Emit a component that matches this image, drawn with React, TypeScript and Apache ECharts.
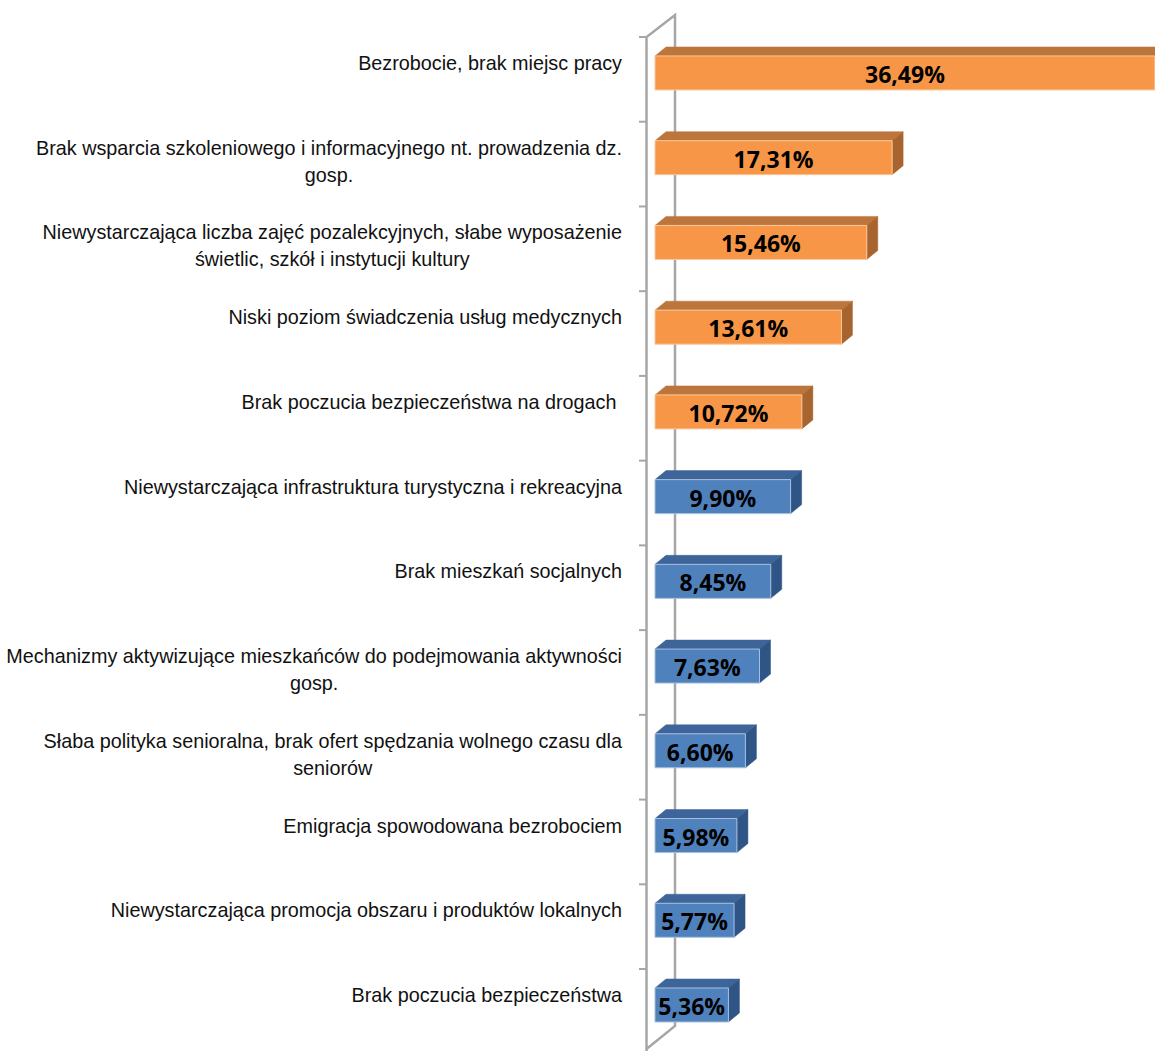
import React, { useEffect, useRef } from "react";
import * as echarts from "echarts";

const categories: string[] = [
  "Bezrobocie, brak miejsc pracy",
  "Brak wsparcia szkoleniowego i informacyjnego nt. prowadzenia dz.\ngosp.",
  "Niewystarczająca liczba zajęć pozalekcyjnych, słabe wyposażenie\nświetlic, szkół i instytucji kultury",
  "Niski poziom świadczenia usług medycznych",
  "Brak poczucia bezpieczeństwa na drogach ",
  "Niewystarczająca infrastruktura turystyczna i rekreacyjna",
  "Brak mieszkań socjalnych",
  "Mechanizmy aktywizujące mieszkańców do podejmowania aktywności\ngosp.",
  "Słaba polityka senioralna, brak ofert spędzania wolnego czasu dla\nseniorów",
  "Emigracja spowodowana bezrobociem",
  "Niewystarczająca promocja obszaru i produktów lokalnych",
  "Brak poczucia bezpieczeństwa",
];

const values: number[] = [36.49, 17.31, 15.46, 13.61, 10.72, 9.9, 8.45, 7.63, 6.6, 5.98, 5.77, 5.36];

const TOP_COUNT = 5;

const W = 1155;
const H = 1051;

const ORANGE = { front: "#F79646", top: "#BC753B", side: "#A8642E", edge: "#FBC89C" };
const BLUE = { front: "#4F81BD", top: "#3D659A", side: "#2F5587", edge: "#A7C0DE" };

function fmt(v: number) {
  return v.toFixed(2).replace(".", ",") + "%";
}

export default function App() {
  const ref = useRef<HTMLDivElement>(null);
  useEffect(() => {
    document.body.style.margin = "0";
    const chart = echarts.init(ref.current!, null, { renderer: "svg" });

    const gridTop = 30.6;
    const band = 84.73;
    const gridHeight = band * categories.length;
    const gridLeft = 655;

    const wallGray = "#A6A6A6";
    const wallFrontX = 646.5;
    const wallBackX = 675;
    const wallTop = 37;
    const graphics: any[] = [
      {
        type: "polyline",
        shape: {
          points: [
            [wallFrontX, H + 5],
            [wallFrontX, wallTop],
            [wallBackX, 15],
            [wallBackX, 1026],
            [wallFrontX, 1049],
          ],
        },
        style: { stroke: wallGray, lineWidth: 2.5, fill: null },
        z: 0,
      },
    ];
    for (let k = 0; k <= categories.length; k++) {
      const y = wallTop + band * k;
      graphics.push({
        type: "line",
        shape: { x1: 639, y1: y, x2: wallFrontX, y2: y },
        style: { stroke: wallGray, lineWidth: 2 },
        z: 0,
      });
    }

    const labelFont = "'Liberation Sans', Arial, sans-serif";

    chart.setOption({
      animation: false,
      grid: {
        left: gridLeft,
        right: 0,
        top: gridTop,
        height: gridHeight,
        containLabel: false,
        outerBoundsMode: "none",
      },
      xAxis: {
        type: "value",
        min: 0,
        max: 36.5,
        show: false,
      },
      yAxis: {
        type: "category",
        inverse: true,
        data: categories,
        axisLine: { show: false },
        axisTick: { show: false },
        splitLine: { show: false },
        axisLabel: {
          margin: 33,
          align: "right",
          verticalAlign: "middle",
          formatter: (val: string) => {
            const lines = val.split("\n");
            if (lines.length === 1) lines.push(" ");
            return lines.map((l) => `{a|${l}}`).join("\n");
          },
          rich: {
            a: {
              align: "center",
              verticalAlign: "bottom",
              fontFamily: labelFont,
              fontSize: 19.8,
              lineHeight: 27,
              color: "#111",
            },
          },
        },
      },
      graphic: graphics,
      series: [
        {
          type: "custom",
          z: 5,
          encode: { x: 0, y: 1 },
          data: values.map((v, i) => [v, i]),
          renderItem: (params: any, api: any) => {
            const v = api.value(0);
            const i = api.value(1);
            const p0 = api.coord([0, i]);
            const p1 = api.coord([v, i]);
            const h = 34;
            const dx = 11;
            const dy = 9;
            const x0 = p0[0];
            const x1 = p1[0];
            const top = p0[1] - h / 2;
            const bot = p0[1] + h / 2;
            const c = i < TOP_COUNT ? ORANGE : BLUE;
            return {
              type: "group",
              children: [
                {
                  type: "polygon",
                  shape: { points: [[x0, top], [x0 + dx, top - dy], [x1 + dx, top - dy], [x1, top]] },
                  style: { fill: c.top, stroke: c.top, lineWidth: 0.5 },
                },
                {
                  type: "polygon",
                  shape: { points: [[x1, top], [x1 + dx, top - dy], [x1 + dx, bot - dy], [x1, bot]] },
                  style: { fill: c.side, stroke: c.side, lineWidth: 0.5 },
                },
                {
                  type: "rect",
                  shape: { x: x0, y: top, width: x1 - x0, height: h },
                  style: { fill: c.front, stroke: c.edge, lineWidth: 1 },
                },
                {
                  type: "text",
                  x: (x0 + x1) / 2,
                  y: p0[1] + 1,
                  style: {
                    text: fmt(v),
                    align: "center",
                    verticalAlign: "middle",
                    fill: "#000",
                    font: "bold 23px 'Open Sans', Lato, sans-serif",
                  },
                },
              ],
            };
          },
        },
      ],
    });
    return () => chart.dispose();
  }, []);
  return <div ref={ref} style={{ position: "absolute", left: 0, top: 0, width: W, height: H }} />;
}
